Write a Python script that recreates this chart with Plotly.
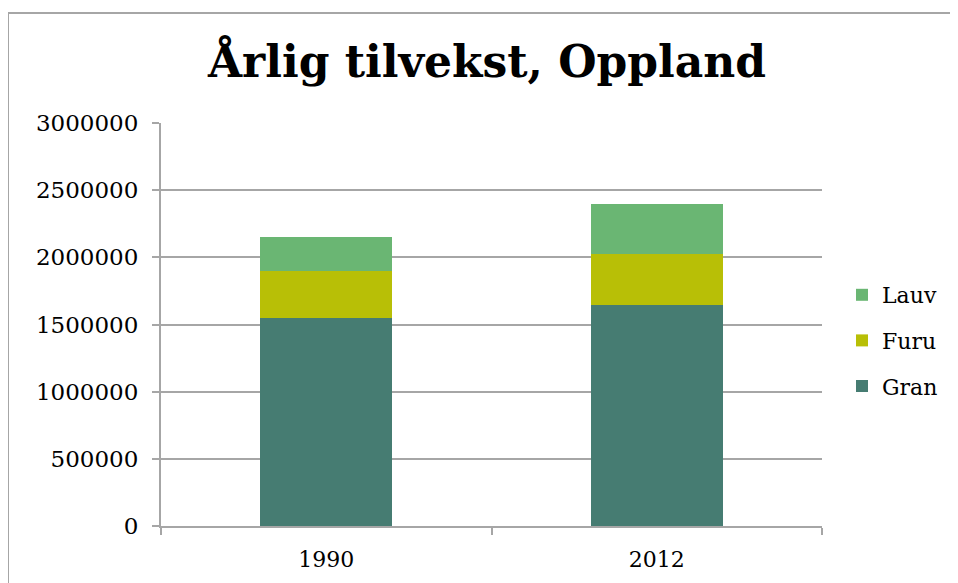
import plotly.graph_objects as go

years = ["1990", "2012"]
gran = [1550000, 1643000]
furu = [348000, 384000]
lauv = [255000, 368000]
series_names = ["Gran", "Furu", "Lauv"]
series_colors = ["#467C72", "#B8BF06", "#6AB673"]
legend_ranks = [3, 2, 1]
y_ticks = [0, 500000, 1000000, 1500000, 2000000, 2500000, 3000000]

W, H = 958, 583
OFF = 8  # page body offset
# target plot area in window pixels: x 161..822, y 123..526
L = 161 - OFF
T = 123 - OFF
pw = 822 - 161
ph = 526 - 123
R = W - L - pw
B = H - T - ph

fig = go.Figure()
for name, vals, col, rk in zip(series_names, [gran, furu, lauv], series_colors, legend_ranks):
    fig.add_trace(go.Bar(x=years, y=vals, name=name, marker=dict(color=col, line=dict(width=0)),
                         legendgroup=name, legendrank=rk))

font_family = "DejaVu Serif"
grid = "#A6A6A6"

fig.update_layout(
    width=W, height=H,
    margin=dict(l=L, r=R, t=T, b=B, autoexpand=False),
    paper_bgcolor="white", plot_bgcolor="white",
    barmode="stack", bargap=0.6,
    title=dict(text="<b>Årlig tilvekst, Oppland</b>", x=(487 - OFF) / W, xanchor="center",
               y=1 - (62 - OFF) / H, yanchor="middle", yref="container",
               font=dict(family="DejaVu Serif", size=44, color="black")),
    font=dict(family=font_family, size=22, color="black"),
    legend=dict(x=(842 - 161) / pw, xanchor="left", y=0.5 - 16 / ph, yanchor="middle",
                traceorder="grouped", tracegroupgap=14,
                font=dict(family=font_family, size=22, color="black"),
                itemwidth=30, bgcolor="rgba(0,0,0,0)"),
    xaxis=dict(type="category", showline=True, linecolor=grid, linewidth=2,
               ticks="outside", tickson="boundaries", ticklen=7, tickcolor=grid, tickwidth=2,
               showgrid=False, ticklabelstandoff=13, tickfont=dict(family=font_family, size=22)),
    yaxis=dict(range=[0, 3000000], tickvals=y_ticks, tickformat="d",
               showline=True, linecolor=grid, linewidth=2,
               ticks="outside", ticklen=7, tickcolor=grid, tickwidth=2,
               showgrid=True, gridcolor=grid, gridwidth=2, zeroline=False,
               ticklabelstandoff=9, tickfont=dict(family=font_family, size=23)),
    shapes=[dict(type="rect", xref="paper", yref="paper",
                 x0=(8 - 161) / pw, x1=(W + 30 - 161) / pw,
                 y0=(526 - (H + 30)) / ph, y1=(526 - 13) / ph,
                 line=dict(color=grid, width=2), fillcolor="rgba(0,0,0,0)", layer="below")],
)

fig.write_html("out.html")
